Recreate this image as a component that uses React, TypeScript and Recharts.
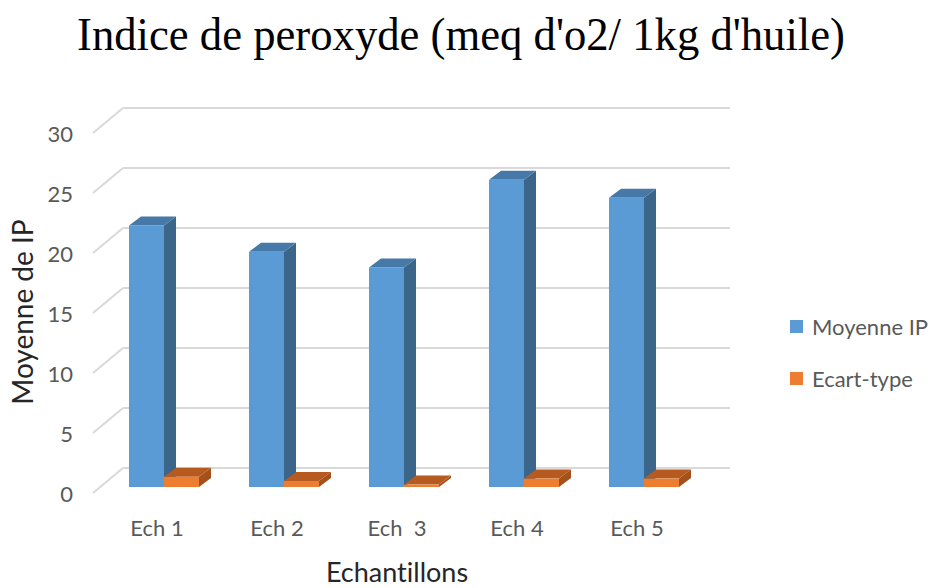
import React from 'react';
import { BarChart, Bar, XAxis, YAxis, CartesianGrid, Legend } from 'recharts';

const categories = ['Ech 1', 'Ech 2', 'Ech  3', 'Ech 4', 'Ech 5'];
const moyenneIP = [21.8, 19.6, 18.3, 25.6, 24.1];
const ecartType = [0.85, 0.5, 0.2, 0.7, 0.7];
const yTicks = [0, 5, 10, 15, 20, 25, 30];
const seriesOrder = ['moy', 'ecart'];

const data = categories.map((c, i) => ({ name: c, moy: moyenneIP[i], ecart: ecartType[i] }));

const FONT = 'Lato, "Noto Sans", sans-serif';
const GREY = '#595959';
const DX = 12;
const DY = 9;

const make3D = (front: string, side: string, top: string) => (props: any) => {
  const { x, y, width, height } = props;
  if (height == null || width == null) return <g />;
  const r = x + width;
  const b = y + height;
  return (
    <g>
      <polygon points={`${r},${y} ${r + DX},${y - DY} ${r + DX},${b - DY} ${r},${b}`} fill={side} />
      <polygon points={`${x},${y} ${x + DX},${y - DY} ${r + DX},${y - DY} ${r},${y}`} fill={top} />
      <rect x={x} y={y} width={width} height={height} fill={front} />
    </g>
  );
};

const blueShape = make3D('#5B9BD5', '#3B6589', '#4679A8');
const orangeShape = make3D('#ED7D31', '#A4511B', '#B65A1F');

const gridLine = (props: any) => {
  const { x1, x2, y1, index } = props;
  return (
    <g key={`g-${index}-${y1}`}>
      <line x1={x1 - 11} y1={y1 + 6} x2={x1 + 19} y2={y1 - 19} stroke="#D9D9D9" strokeWidth={2} />
      <line x1={x1 + 19} y1={y1 - 19} x2={x2 + 26} y2={y1 - 19} stroke="#D9D9D9" strokeWidth={2} />
    </g>
  );
};

const YTick = (props: any) => {
  const { y, payload } = props;
  return (
    <text x={73} y={y + 6} textAnchor="end" dominantBaseline="central" fill={GREY} fontSize={22} fontFamily={FONT}>
      {payload.value}
    </text>
  );
};

const XTick = (props: any) => {
  const { x, y, payload } = props;
  return (
    <text x={x - 7} y={y + 40} textAnchor="middle" dominantBaseline="central" fill={GREY} fontSize={22} fontFamily={FONT} style={{ whiteSpace: 'pre' }}>
      {payload.value}
    </text>
  );
};

const renderLegend = (props: any) => {
  const payload = [...(props.payload || [])].sort(
    (a: any, b: any) => seriesOrder.indexOf(a.dataKey) - seriesOrder.indexOf(b.dataKey)
  );
  return (
    <div style={{ fontFamily: FONT, fontSize: 22, color: GREY }}>
      {payload.map((p: any, i: number) => (
        <div key={i} style={{ display: 'flex', alignItems: 'center', height: 52 }}>
          <span style={{ display: 'inline-block', width: 13, height: 13, background: p.color, marginRight: 9 }} />
          <span style={{ whiteSpace: 'nowrap' }}>{p.value}</span>
        </div>
      ))}
    </div>
  );
};

export default function App() {
  return (
    <div style={{ position: 'absolute', left: 0, top: 0, width: 933, height: 588, background: '#fff' }}>
      <BarChart
        width={933}
        height={588}
        data={data}
        margin={{ top: 127, right: 229, bottom: 0, left: 0 }}
        barCategoryGap={25}
        barGap={0}
      >
        <CartesianGrid horizontal={gridLine} vertical={false} />
        <XAxis
          dataKey="name"
          axisLine={false}
          tickLine={false}
          tickSize={0}
          tickMargin={0}
          height={101}
          tick={<XTick />}
          interval={0}
          label={{
            content: (lp: any) => {
              const vb = lp.viewBox;
              return (
                <text x={vb.x + vb.width / 2 - 7} y={vb.y + 84} textAnchor="middle" dominantBaseline="central" fill="#262626" fontSize={27} fontFamily={FONT} style={{ fontVariantLigatures: 'none' }}>
                  Echantillons
                </text>
              );
            },
          }}
        />
        <YAxis
          domain={[0, 30]}
          ticks={yTicks}
          axisLine={false}
          tickLine={false}
          width={104}
          tick={<YTick />}
          label={{
            content: (lp: any) => {
              const vb = lp.viewBox;
              const cy = vb.y + vb.height / 2 + 5;
              return (
                <text x={22} y={cy} transform={`rotate(-90, 22, ${cy})`} textAnchor="middle" dominantBaseline="central" fill="#262626" fontSize={28} fontFamily={FONT}>
                  Moyenne de IP
                </text>
              );
            },
          }}
        />
        <Legend
          layout="vertical"
          align="center"
          verticalAlign="middle"
          content={renderLegend}
          wrapperStyle={{ position: 'absolute', left: 790, top: 300, width: 143 }}
        />
        <Bar dataKey="moy" name="Moyenne IP" fill="#5B9BD5" shape={blueShape} isAnimationActive={false} />
        <Bar dataKey="ecart" name="Ecart-type" fill="#ED7D31" shape={orangeShape} isAnimationActive={false} />
      </BarChart>
      <svg width={933} height={80} style={{ position: 'absolute', left: 0, top: 0, pointerEvents: 'none' }}>
        <text x={77} y={50} fontFamily='"Liberation Serif", "Times New Roman", serif' fontSize={47} fill="#000" textLength={768} lengthAdjust="spacingAndGlyphs">
          Indice de peroxyde (meq d'o2/ 1kg d'huile)
        </text>
      </svg>
    </div>
  );
}
